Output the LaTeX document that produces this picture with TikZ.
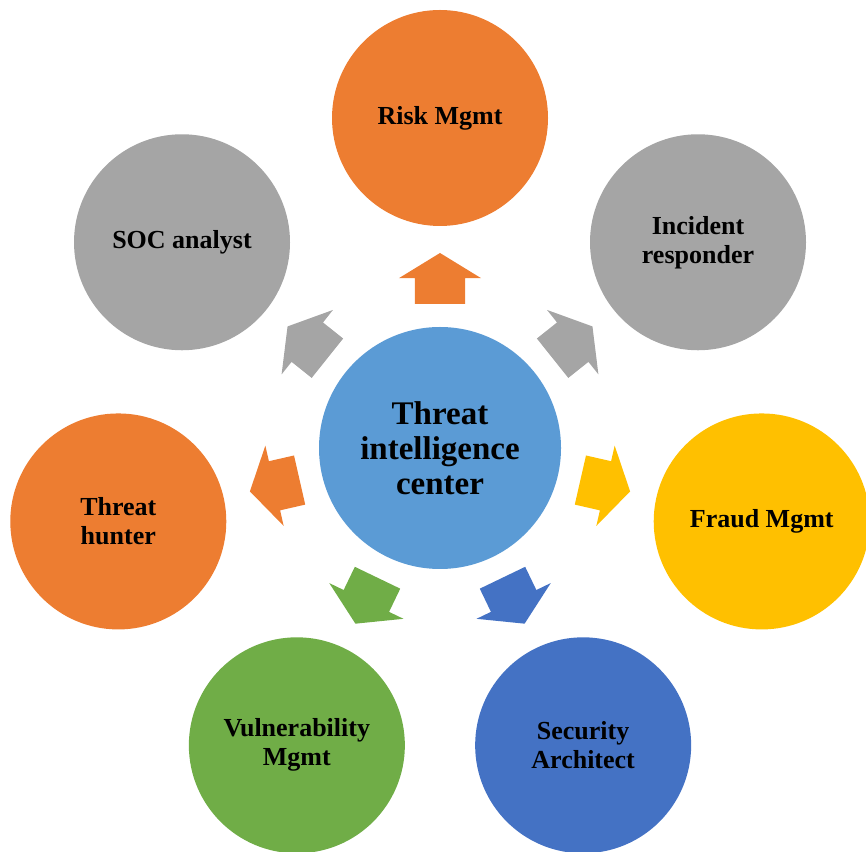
\documentclass[tikz,border=0pt]{standalone}
\usepackage{fontspec}
\setmainfont{Liberation Serif}
\usetikzlibrary{shapes.arrows}
\definecolor{hubblue}{HTML}{5B9BD5}
\definecolor{orng}{HTML}{ED7D31}
\definecolor{gry}{HTML}{A5A5A5}
\definecolor{ylw}{HTML}{FFC000}
\definecolor{dblue}{HTML}{4472C4}
\definecolor{grn}{HTML}{70AD47}
\begin{document}
\begin{tikzpicture}[x=1pt,y=1pt,
	hub/.style={circle, fill=hubblue, minimum size=242pt, inner sep=0pt, align=center, font=\bfseries\fontsize{33}{35}\selectfont},
	role/.style={circle, minimum size=216pt, inner sep=0pt, align=center, font=\bfseries\fontsize{26}{29}\selectfont},
	blk/.style={single arrow, anchor=tail, minimum height=51pt, minimum width=0pt, single arrow head extend=16pt, single arrow tip angle=117, inner xsep=0pt, inner ysep=25pt, outer sep=0pt}]
		\clip (0,0) rectangle (866,851);
		\node[hub														] (TIC) 		at (440,403) 	{Threat\\intelligence\\center};

		\node[role, fill=orng	] (RISK) 		at ([shift={(90:330)}]TIC.center)		{Risk Mgmt};
		\node[role, fill=gry	] (INCIDENT) 	at ([shift={(38.57:330)}]TIC.center)	{Incident\\responder};
		\node[role, fill=ylw	] (FRAUD) 		at ([shift={(-12.86:330)}]TIC.center)	{Fraud Mgmt};
		\node[role, fill=dblue	] (SECURITY) 	at ([shift={(-64.29:330)}]TIC.center)	{Security\\Architect};
		\node[role, fill=grn	] (VULN) 		at ([shift={(-115.71:330)}]TIC.center)	{Vulnerability\\Mgmt};
		\node[role, fill=orng	] (HUNTER) 		at ([shift={(-167.14:330)}]TIC.center)	{Threat\\hunter};
		\node[role, fill=gry	] (SOC) 		at ([shift={(141.43:330)}]TIC.center)	{SOC analyst};

		% block arrows from the hub out to each role
		\node[blk, fill=orng, rotate=90		] (A_RISK) 		at ([shift={(90:144)}]TIC.center)		{};
		\node[blk, fill=gry, rotate=38.57	] (A_INCIDENT) 	at ([shift={(38.57:144)}]TIC.center)	{};
		\node[blk, fill=ylw, rotate=-12.86	] (A_FRAUD) 	at ([shift={(-12.86:144)}]TIC.center)	{};
		\node[blk, fill=dblue, rotate=-64.29	] (A_SECURITY) 	at ([shift={(-64.29:144)}]TIC.center)	{};
		\node[blk, fill=grn, rotate=-115.71	] (A_VULN) 		at ([shift={(-115.71:144)}]TIC.center)	{};
		\node[blk, fill=orng, rotate=-167.14	] (A_HUNTER) 	at ([shift={(-167.14:144)}]TIC.center)	{};
		\node[blk, fill=gry, rotate=141.43	] (A_SOC) 		at ([shift={(141.43:144)}]TIC.center)	{};
\end{tikzpicture}
\end{document}
